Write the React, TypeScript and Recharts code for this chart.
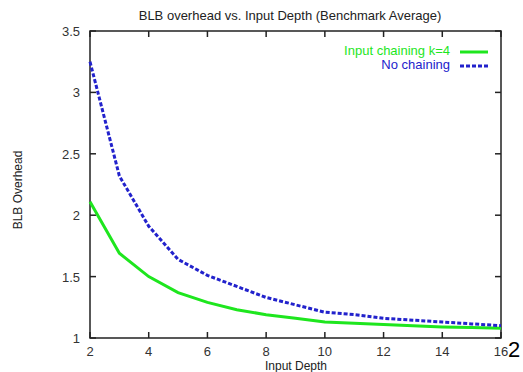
import { LineChart, Line, XAxis, YAxis, ReferenceLine, ReferenceArea } from "recharts";

const depths = [2, 3, 4, 5, 6, 7, 8, 9, 10, 11, 12, 13, 14, 15, 16];
const inputChaining = [2.11, 1.69, 1.5, 1.37, 1.29, 1.23, 1.19, 1.16, 1.13, 1.12, 1.11, 1.1, 1.09, 1.085, 1.08];
const noChaining = [3.25, 2.32, 1.91, 1.64, 1.51, 1.42, 1.33, 1.27, 1.21, 1.19, 1.16, 1.145, 1.13, 1.115, 1.1];
const xTicks = [2, 4, 6, 8, 10, 12, 14, 16];
const yTicks = [1, 1.5, 2, 2.5, 3, 3.5];

const data = depths.map((d, i) => ({ depth: d, chained: inputChaining[i], none: noChaining[i] }));

const FONT = "'Liberation Sans', Arial, sans-serif";
const GREEN = "#1ee61e";
const BLUE = "#2222cc";
const FRAME = "#222";
const TICK = 6;

const BottomTick = (props: any) => {
  const { x, y, payload } = props;
  return (
    <text x={x} y={y + 18} textAnchor="middle" fontSize={13} fill="#333" fontFamily={FONT}>
      {payload.value}
    </text>
  );
};

const LeftTick = (props: any) => {
  const { x, y, payload } = props;
  return (
    <text x={x - 10} y={y + 5} textAnchor="end" fontSize={13} fill="#333" fontFamily={FONT}>
      {payload.value}
    </text>
  );
};

// gnuplot style tick marks: short inward marks on both ends of each reference line
const VerticalTickMarks = (props: any) => {
  const { x1, y1, x2, y2 } = props;
  const top = Math.min(y1, y2);
  const bottom = Math.max(y1, y2);
  return (
    <g>
      <line x1={x1} y1={top} x2={x1} y2={top + TICK} stroke={FRAME} strokeWidth={1.5} />
      <line x1={x2} y1={bottom} x2={x2} y2={bottom - TICK} stroke={FRAME} strokeWidth={1.5} />
    </g>
  );
};

const HorizontalTickMarks = (props: any) => {
  const { x1, y1, x2, y2 } = props;
  const left = Math.min(x1, x2);
  const right = Math.max(x1, x2);
  return (
    <g>
      <line x1={left} y1={y1} x2={left + TICK} y2={y1} stroke={FRAME} strokeWidth={1.5} />
      <line x1={right} y1={y2} x2={right - TICK} y2={y2} stroke={FRAME} strokeWidth={1.5} />
    </g>
  );
};

export default function App() {
  return (
    <div style={{ position: "absolute", left: 0, top: 0, width: 523, height: 372, background: "#fff", fontFamily: FONT }}>
      <LineChart width={523} height={372} data={data} margin={{ top: 31, right: 22, left: 50, bottom: 14 }}>
        <XAxis
          dataKey="depth"
          type="number"
          domain={[2, 16]}
          ticks={xTicks}
          tickSize={0}
          tickMargin={0}
          height={20}
          tick={<BottomTick />}
          axisLine={false}
          tickLine={false}
        />
        <YAxis
          type="number"
          domain={[1, 3.5]}
          ticks={yTicks}
          tickSize={0}
          tickMargin={0}
          width={40}
          tick={<LeftTick />}
          axisLine={false}
          tickLine={false}
        />
        <ReferenceArea x1={2} x2={16} y1={1} y2={3.5} fill="none" stroke={FRAME} strokeWidth={1.5} fillOpacity={0} />
        {xTicks.map((t) => (
          <ReferenceLine key={`x${t}`} x={t} shape={<VerticalTickMarks />} />
        ))}
        {yTicks.map((t) => (
          <ReferenceLine key={`y${t}`} y={t} shape={<HorizontalTickMarks />} />
        ))}
        <Line
          type="linear"
          dataKey="chained"
          stroke={GREEN}
          strokeWidth={3}
          dot={false}
          isAnimationActive={false}
        />
        <Line
          type="linear"
          dataKey="none"
          stroke={BLUE}
          strokeWidth={3}
          strokeDasharray="4 2"
          dot={false}
          isAnimationActive={false}
        />
      </LineChart>

      {/* title */}
      <div style={{ position: "absolute", left: 0, width: 580, top: 8, textAlign: "center", fontSize: 13, color: "#222", lineHeight: "16px" }}>
        BLB overhead vs. Input Depth (Benchmark Average)
      </div>

      {/* legend */}
      <div style={{ position: "absolute", right: 73, top: 44, textAlign: "right", fontSize: 13, lineHeight: "14px" }}>
        <div style={{ color: GREEN }}>Input chaining k=4</div>
        <div style={{ color: BLUE }}>No chaining</div>
      </div>
      <svg style={{ position: "absolute", left: 458, top: 44, width: 32, height: 30 }}>
        <line x1={2} y1={8} x2={30} y2={8} stroke={GREEN} strokeWidth={3} />
        <line x1={2} y1={22} x2={30} y2={22} stroke={BLUE} strokeWidth={3} strokeDasharray="4 2" />
      </svg>

      {/* axis titles */}
      <div style={{ position: "absolute", left: 196, width: 200, top: 360, textAlign: "center", fontSize: 12, color: "#222", lineHeight: "12px" }}>
        Input Depth
      </div>
      <div
        style={{
          position: "absolute",
          left: 18,
          top: 190,
          transform: "translate(-50%, -50%) rotate(-90deg)",
          whiteSpace: "nowrap",
          fontSize: 12,
          color: "#222",
        }}
      >
        BLB Overhead
      </div>

      {/* stray page number from the source scan */}
      <div style={{ position: "absolute", left: 508, top: 338, fontSize: 22, color: "#000", lineHeight: "24px" }}>
        2
      </div>
    </div>
  );
}
